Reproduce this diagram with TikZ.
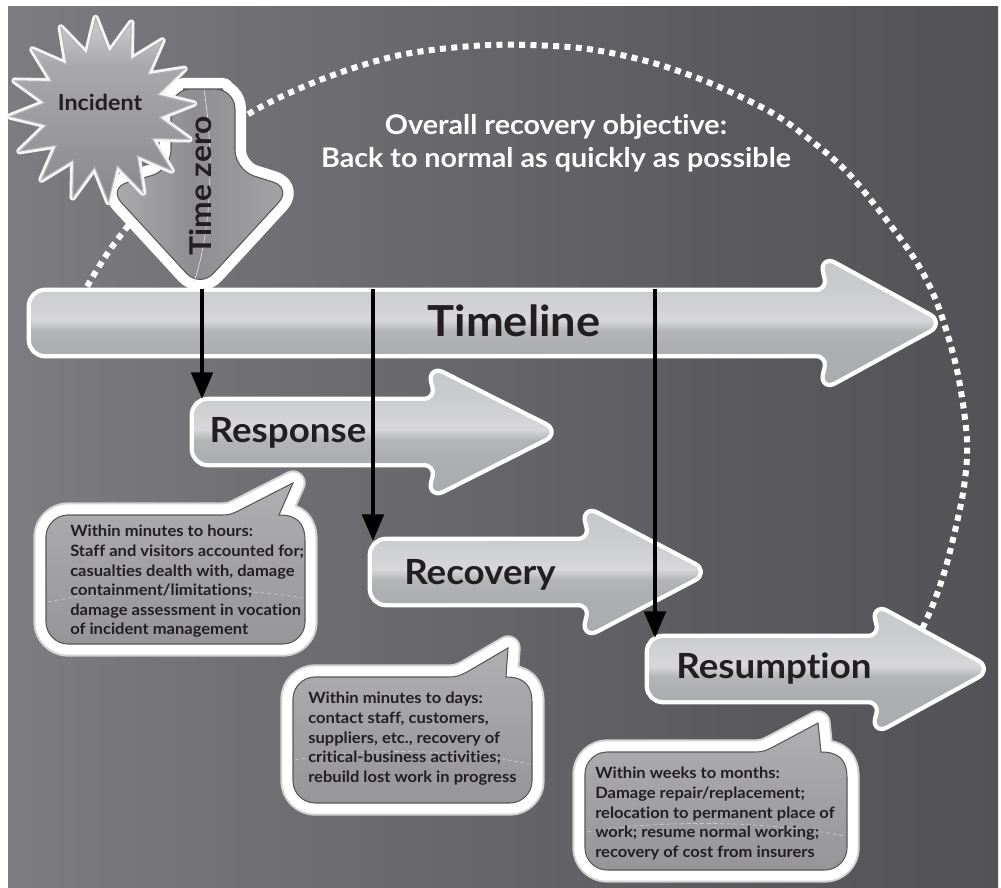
\documentclass[tikz,border=0pt]{standalone}
\usepackage{fontspec}
\setmainfont{Lato}[FakeStretch=1.06, Ligatures=NoCommon]
\usetikzlibrary{arrows.meta,shapes.geometric}
\definecolor{txt}{HTML}{231F20}
\definecolor{bgA}{RGB}{150,150,154}
\definecolor{bgB}{RGB}{110,110,114}
\definecolor{bgC}{RGB}{92,92,96}
\definecolor{bgD}{RGB}{68,68,71}
\definecolor{mA}{HTML}{A4A5A8}
\definecolor{mB}{HTML}{AEAFB2}
\definecolor{mC}{HTML}{B4B5B7}
\definecolor{mD}{HTML}{D7D7DA}
\definecolor{mE}{HTML}{CACBCE}
\definecolor{mF}{HTML}{C1C2C5}
\definecolor{bbA}{HTML}{8A8A8D}
\definecolor{bbB}{HTML}{A2A2A5}
\definecolor{bbC}{HTML}{BDBDC0}
\definecolor{tzA}{HTML}{A2A2A5}
\definecolor{tzB}{HTML}{B2B2B4}
\definecolor{tzC}{HTML}{8E8E91}
\definecolor{tzD}{HTML}{9C9C9F}
\definecolor{tzE}{HTML}{B4B4B6}
\definecolor{sA}{HTML}{717174}
\definecolor{sB}{HTML}{9A9A9D}
\definecolor{sC}{HTML}{A8A8AB}
\definecolor{sD}{HTML}{C6C6C8}
\definecolor{sE}{HTML}{9E9EA1}
\definecolor{rimdark}{HTML}{58585B}
\pgfdeclarehorizontalshading{bgshade}{100bp}{color(0bp)=(bgA); color(40bp)=(bgB); color(60bp)=(bgC); color(100bp)=(bgD)}
\pgfdeclareverticalshading{metal}{100bp}{color(0bp)=(mA); color(42bp)=(mB); color(47bp)=(mC); color(51bp)=(mD); color(64bp)=(mE); color(100bp)=(mF)}
\pgfdeclareverticalshading{bubbleshade}{100bp}{color(0bp)=(bbA); color(50bp)=(bbB); color(100bp)=(bbC)}
\pgfdeclarehorizontalshading{tzshade}{100bp}{color(0bp)=(tzA); color(22bp)=(tzB); color(48bp)=(tzC); color(65bp)=(tzD); color(90bp)=(tzE); color(100bp)=(tzD)}
\pgfdeclareverticalshading{starshade}{100bp}{color(0bp)=(sA); color(45bp)=(sB); color(62bp)=(sC); color(72bp)=(sD); color(100bp)=(sE)}
\tikzset{
  dotarc/.style={draw=white, line width=4.5pt, dash pattern=on 4.5pt off 4pt},
  arrowshape/.style={shade, shading=metal, rounded corners=10.5pt,
    preaction={draw=white, line width=6.5pt, line join=round}},
  tzshape/.style={shade, shading=tzshade, draw=rimdark, line width=0.8pt, rounded corners=15pt,
    preaction={draw=white, line width=16.5pt, line join=round}},
  starburst/.style={star, star points=16, star point ratio=1.6, minimum size=138pt, inner sep=0pt,
    shade, shading=starshade, draw=gray!60!white, line width=0.8pt, shape border rotate=4,
    preaction={draw=white!92!gray, line width=5pt, line join=round}},
  bubble/.style={shade, shading=bubbleshade, draw=rimdark, line width=0.8pt,
    preaction={draw=gray!35!white, line width=19pt, line join=round},
    preaction={draw=white, line width=16pt, line join=round}},
  sheen/.style={draw=white, opacity=0.45, line width=0.5pt, dash pattern=on 3pt off 2pt},
  lbl/.style={font=\fontsize{26}{30}\selectfont\bfseries, text=txt, inner sep=0pt, anchor=base},
  btext/.style={font=\fontsize{11.7}{14.7}\selectfont\bfseries, text=txt, inner sep=0pt, align=left, anchor=north west},
  titletext/.style={font=\fontsize{20.3}{24}\selectfont\bfseries, text=white, inner sep=0pt, anchor=base},
  conn/.style={draw=black, line width=3.3pt, -{Triangle[width=16pt 0, length=20pt 0]}},
}
\newcommand\FatArrowPath[6]{\path[arrowshape] ({#1},{#2}) -- ({#1},{#2-#3}) -- ({#4},{#2-#3}) -- ({#4-8},{#2-#5}) -- ({#6},{#2}) -- ({#4-8},{#2+#5}) -- ({#4},{#2+#3}) -- ({#1},{#2+#3}) -- cycle;}
\newcommand\SpeechBubble[7]{\path[bubble] ({#1},{#2+22}) .. controls ({#1},{#2+10}) and ({#1+10},{#2}) .. ({#1+22},{#2})
 -- ({#5-10},{#2}) .. controls ({#5},{#2}) and ({#5+2},{#2-1}) .. ({#5+10},{#2-5})
 -- ({#6},{#7}) -- ({#3-26},{#2}) .. controls ({#3-8},{#2}) and ({#3},{#2+8}) .. ({#3},{#2+26})
 -- ({#3},{#4-22}) .. controls ({#3},{#4-10}) and ({#3-10},{#4}) .. ({#3-22},{#4})
 -- ({#1+22},{#4}) .. controls ({#1+10},{#4}) and ({#1},{#4-10}) .. ({#1},{#4-22}) -- cycle;}
\begin{document}
\begin{tikzpicture}[x=0.75pt,y=-0.75pt]
\useasboundingbox (0,0) rectangle (1001,888);
\fill[white] (0,0) rectangle (1001,888);
\shade[shading=bgshade] (8,7) rectangle (998,888);
% dotted arc
\draw[dotarc] plot[smooth] coordinates {(75,318) (84,292) (117,240) (175,172) (247,115) (320,80) (400,55) (490,45) (580,48) (650,62) (710,83) (767,110) (800,132) (850,175) (910,252) (937,303) (957,370) (967,440) (963,493) (947,563) (932,607) (912,650)};
% speech bubbles
\SpeechBubble{46}{515}{305}{644}{230}{293}{483}
\SpeechBubble{293}{677}{532}{803}{457}{508}{648}
\SpeechBubble{585}{752}{847}{870}{763}{818}{723}
\draw[sheen] (48,602) .. controls (110,588) and (220,584) .. (303,598);
\draw[sheen] (295,760) .. controls (360,748) and (450,748) .. (530,764);
\draw[sheen] (587,832) .. controls (660,820) and (760,820) .. (845,836);
% arrows
\FatArrowPath{31}{323}{31}{830}{65}{941}
\FatArrowPath{194}{432}{31}{438}{64}{557}
\FatArrowPath{372}{572}{31}{592}{64}{706}
\FatArrowPath{649}{669}{31}{882}{63}{989}
% time zero arrow
\path[tzshape] (203,89) -- (235,89) -- (235,170) -- (292,188) -- (200,288) -- (108,188) -- (171,170) -- (171,89) -- cycle;
\draw[white!75!gray, line width=0.5pt] (204,90) .. controls (214,150) and (212,230) .. (194,282);
% starburst
\node[starburst] (burst) at (102,110) {};
\node[font=\fontsize{16.5}{20}\selectfont\bfseries, text=txt, inner sep=0pt] (incident) at (100,102) {Incident};
\node[rotate=90, font=\fontsize{22.5}{28}\selectfont\bfseries, text=txt, inner sep=0pt] (timezero) at (200,186) {Time zero};
% title
\node[titletext] (obj1) at (556,135) {Overall recovery objective:};
\node[titletext] (obj2) at (556,168) {Back to normal as quickly as possible};
% labels
\node[lbl, font=\fontsize{32}{36}\selectfont\bfseries] (timeline) at (514,337) {Timeline};
\node[lbl] (response) at (288,442) {Response};
\node[lbl] (recovery) at (480,584) {Recovery};
\node[lbl] (resumption) at (774,678) {Resumption};
% bubble texts
\node[btext] (b1) at (70,525) {Within minutes to hours:\\Staff and visitors accounted for;\\casualties dealth with, damage\\containment/limitations;\\damage assessment in vocation\\of incident management};
\node[btext] (b2) at (308,692) {Within minutes to days:\\contact staff, customers,\\suppliers, etc., recovery of\\critical-business activities;\\rebuild lost work in progress};
\node[btext] (b3) at (595,767) {Within weeks to months:\\Damage repair/replacement;\\relocation to permanent place of\\work; resume normal working;\\recovery of cost from insurers};
% connectors
\coordinate (tzb) at (202,289);
\coordinate (respin) at (202,399);
\coordinate (tl2) at (373,289);
\coordinate (recin) at (373,541);
\coordinate (tl3) at (655,289);
\coordinate (resin) at (655,638);
\draw[conn] (tzb) -- (respin);
\draw[conn] (tl2) -- (recin);
\draw[conn] (tl3) -- (resin);
\end{tikzpicture}
\end{document}
